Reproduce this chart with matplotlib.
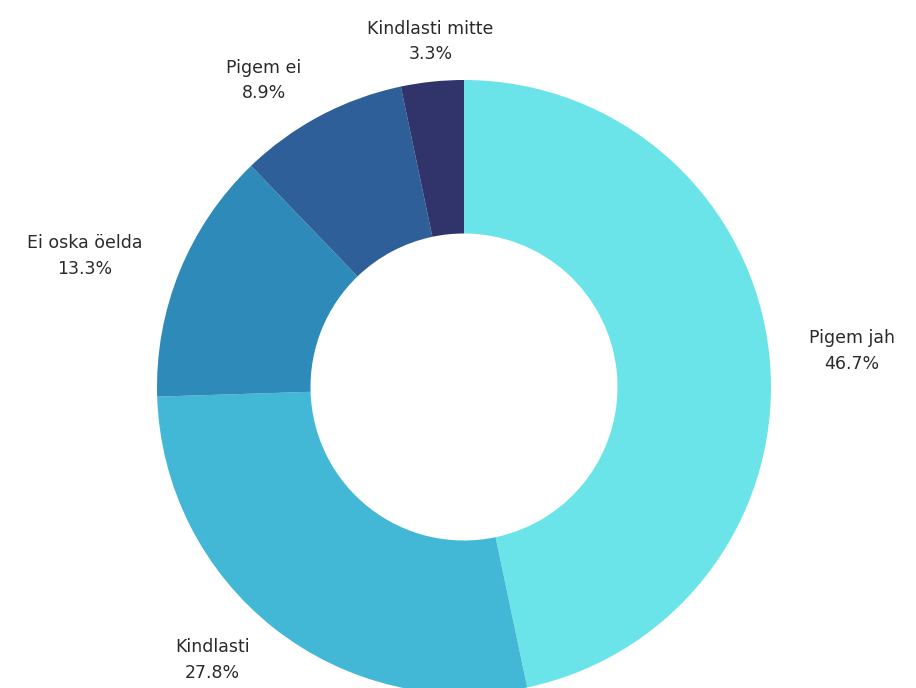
import numpy as np
import matplotlib.pyplot as plt

labels = ["Pigem jah", "Kindlasti", "Ei oska öelda", "Pigem ei", "Kindlasti mitte"]
values = [46.7, 27.8, 13.3, 8.9, 3.3]
colors = ["#6ae4e8", "#43b7d6", "#2e8ab8", "#2e5f98", "#30346b"]

fig = plt.figure(figsize=(9.16, 6.88), dpi=100)
ax = fig.add_axes([0, 0, 1, 1])

wedges, _ = ax.pie(values, colors=colors, startangle=90, counterclock=False,
                   radius=1.0, wedgeprops=dict(width=0.5, edgecolor="none"))

# labels just outside the ring, aligned away from the donut
for w, lab, v in zip(wedges, labels, values):
    ang = np.deg2rad((w.theta1 + w.theta2) / 2)
    c, s = np.cos(ang), np.sin(ang)
    if abs(c) < 0.2:
        d, ha, va = 1.06, "center", "bottom"
    else:
        d, ha, va = 1.13, ("left" if c > 0 else "right"), "center"
    ax.text(d * c, d * s, f"{lab}\n{v}%", ha=ha, va=va, multialignment="center",
            fontsize=12.5, color="#2a2a2a", linespacing=1.55, family="DejaVu Sans")

# map axes so that centre sits at (464, 387) px with radius 307 px
W, H, cx, cy, r = 916, 688, 464, 387, 307
ax.set_xlim(-cx / r, (W - cx) / r)
ax.set_ylim(-(H - cy) / r, cy / r)
ax.set_aspect("auto")
ax.axis("off")

fig.savefig("out.png", dpi=100)
